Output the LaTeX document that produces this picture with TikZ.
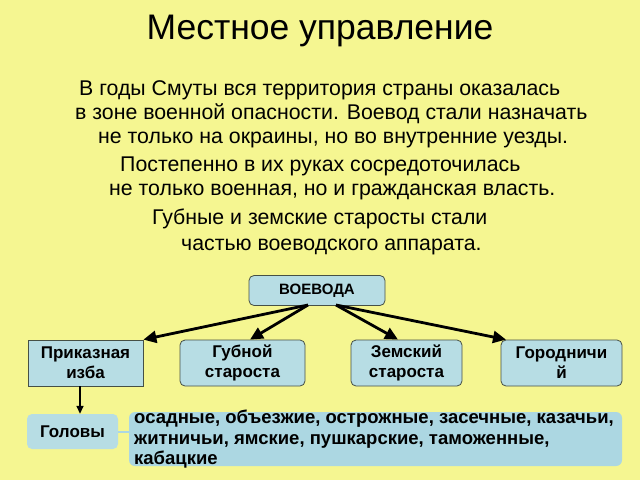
\documentclass[tikz,border=0pt]{standalone}
\usepackage{fontspec}
\setmainfont{Liberation Sans}
\usetikzlibrary{arrows.meta}
\definecolor{bgyellow}{RGB}{245,246,145}
\definecolor{boxblue}{RGB}{183,221,228}
\definecolor{bigblue}{RGB}{172,215,226}
\definecolor{boxline}{RGB}{70,80,70}
\tikzset{
  bodyline/.style={anchor=base west, inner sep=0pt, font=\fontsize{21.3}{24}\selectfont},
  orgbox/.style={draw=boxline, line width=0.8pt, fill=boxblue, rounded corners=5pt, align=center,
     font=\fontsize{17}{20}\selectfont\bfseries, inner sep=0pt},
  plainbox/.style={orgbox, rounded corners=0pt},
  orgarrow/.style={line width=2.8pt, -{Triangle[length=13pt,width=12pt]}, black},
}
\begin{document}
\begin{tikzpicture}[x=1pt,y=-1pt]
\fill[bgyellow] (0,0) rectangle (640,480);
\useasboundingbox (0,0) rectangle (640,480);

\node[font=\fontsize{35.5}{40}\selectfont] (title) at (320,31) {Местное управление};

\node[bodyline] (l1) at (79,95) {В годы Смуты вся территория страны оказалась};
\node[bodyline] (l2) at (75,119) {в зоне военной опасности. Воевод стали назначать};
\node[bodyline] (l3) at (98,143) {не только на окраины, но во внутренние уезды.};
\node[bodyline] (l4) at (120,171) {Постепенно в их руках сосредоточилась};
\node[bodyline] (l5) at (109,195) {не только военная, но и гражданская власть.};
\node[bodyline] (l6) at (152,224) {Губные и земские старосты стали};
\node[bodyline] (l7) at (181,250) {частью воеводского аппарата.};

\node[orgbox, minimum width=136pt, minimum height=30pt, font=\fontsize{15}{17}\selectfont\bfseries] (voe) at (317,290.5) {ВОЕВОДА};
\node[plainbox, minimum width=115pt, minimum height=46pt] (prik) at (85.5,363) {Приказная\\изба};
\node[orgbox, minimum width=125pt, minimum height=46pt] (gub) at (242.5,363) {Губной\\староста};
\node[orgbox, minimum width=111pt, minimum height=46pt] (zem) at (406.5,363) {Земский\\староста};
\node[orgbox, minimum width=121pt, minimum height=46pt] (gor) at (561.5,363) {Городничи\\й};

\coordinate (sL) at (308,305);
\coordinate (sR) at (336,305);
\draw[orgarrow] (sL) -- (prik.north east);
\draw[orgarrow] (sL) -- (gub.north west -| 250,0);
\draw[orgarrow] (sR) -- (zem.north west -| 398,0);
\draw[orgarrow] (sR) -- (gor.north west -| 506,0);

\node[fill=boxblue, rounded corners=5pt, minimum width=91pt, minimum height=35pt, inner sep=0pt,
  font=\fontsize{17}{20}\selectfont\bfseries] (gol) at (72.5,431.5) {Головы};
\draw[line width=1.6pt, -{Triangle[length=8pt,width=7pt]}, black] (prik.south -| 80,0) -- (gol.north -| 80,0);

\node[fill=bigblue, rounded corners=6pt, minimum width=493pt, minimum height=54pt, inner sep=0pt] (big) at (375.5,439) {};
\draw[bigblue, line width=2pt] (gol.east) -- (big.west |- gol.east);
\node[anchor=north west, inner sep=0pt, align=left, font=\fontsize{18.5}{20.5}\selectfont\bfseries] (bigtext) at (134,410)
 {осадные, объезжие, острожные, засечные, казачьи,\\житничьи, ямские, пушкарские, таможенные,\\кабацкие};
\end{tikzpicture}
\end{document}
